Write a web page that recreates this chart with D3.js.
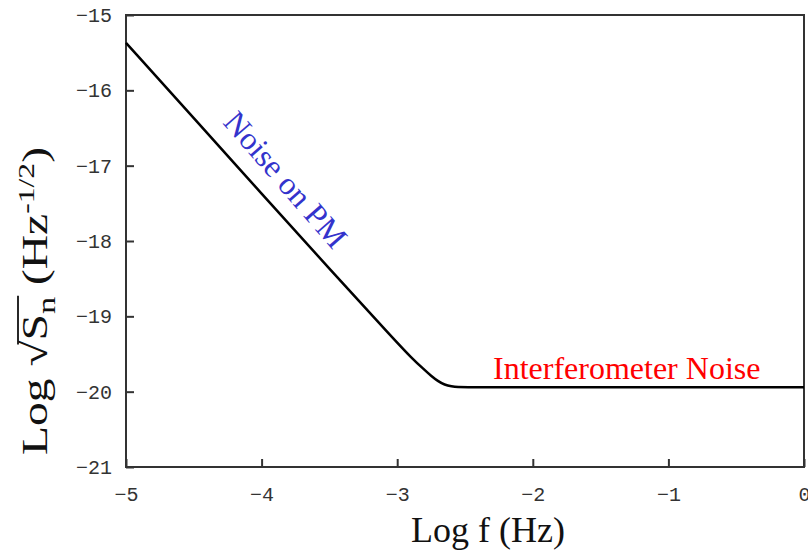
<!DOCTYPE html>
<html><head><meta charset="utf-8">
<script src="https://cdn.jsdelivr.net/npm/d3@7"></script>
<style>body{margin:0;background:#fff}svg{display:block}</style>
</head><body>
<svg id="c" width="808" height="554"></svg>
<script>
const logF = [-5, -4.5, -4, -3.5, -3, -2.9, -2.8, -2.75, -2.7, -2.65, -2.6, -2.55, -2.5, -2.3, -2, -1, 0];
const logS = [-15.37, -16.37, -17.37, -18.37, -19.35, -19.54, -19.71, -19.79, -19.86, -19.91, -19.93, -19.94, -19.94, -19.94, -19.94, -19.94, -19.94];
const xTicks = [-5, -4, -3, -2, -1, 0];
const yTicks = [-21, -20, -19, -18, -17, -16, -15];

const svg = d3.select("#c");
const L = 126, R = 804, T = 15, B = 467;
const x = d3.scaleLinear().domain([-5, 0]).range([L, R]);
const y = d3.scaleLinear().domain([-21, -15]).range([B, T]);
const fmt = d => d === 0 ? "0" : "\u2212" + Math.abs(d);

// frame
svg.append("rect").attr("x", L).attr("y", T).attr("width", R - L).attr("height", B - T)
  .attr("fill", "none").attr("stroke", "#333").attr("stroke-width", 2);

const tickFont = "'Liberation Mono', monospace";
const xa = svg.append("g").attr("transform", `translate(0,${B})`)
  .call(d3.axisBottom(x).tickValues(xTicks).tickSizeInner(-8).tickSizeOuter(0).tickPadding(20).tickFormat(fmt));
const ya = svg.append("g").attr("transform", `translate(${L},0)`)
  .call(d3.axisLeft(y).tickValues(yTicks).tickSizeInner(-8).tickSizeOuter(0).tickPadding(14).tickFormat(fmt));
[xa, ya].forEach(a => {
  a.select(".domain").remove();
  a.selectAll(".tick line").attr("stroke", "#333").attr("stroke-width", 2);
  a.selectAll(".tick text").attr("font-family", tickFont).attr("font-size", 20).attr("fill", "#333");
});

// curve
const pts = logF.map((f, i) => [f, logS[i]]);
svg.append("path").datum(pts)
  .attr("d", d3.line().x(d => x(d[0])).y(d => y(d[1])).curve(d3.curveBasis))
  .attr("fill", "none").attr("stroke", "#000").attr("stroke-width", 2.5);

// annotations
svg.append("text").attr("transform", "translate(222,123) rotate(49)")
  .attr("font-family", "'Liberation Serif', serif").attr("font-size", 32).attr("fill", "#3333cc")
  .text("Noise on PM");
svg.append("text").attr("x", 493).attr("y", 379)
  .attr("font-family", "'Liberation Serif', serif").attr("font-size", 32).attr("fill", "#ff0000")
  .text("Interferometer Noise");

// axis titles
svg.append("text").attr("x", 488).attr("y", 542).attr("text-anchor", "middle")
  .attr("font-family", "'Liberation Serif', serif").attr("font-size", 36).attr("fill", "#111")
  .text("Log f (Hz)");

const ylg = svg.append("g").attr("transform", "translate(47,301) rotate(-90) scale(1.32,1)");
const yl = ylg.append("text").attr("text-anchor", "middle")
  .attr("font-family", "'Liberation Serif', serif").attr("font-size", 36).attr("fill", "#111");
yl.append("tspan").text("Log \u221A");
yl.append("tspan").text("S");
yl.append("tspan").text("n").attr("font-size", 26).attr("dy", 8);
yl.append("tspan").text(" (Hz").attr("dy", -8);
yl.append("tspan").text("-1/2").attr("font-size", 24).attr("dy", -13);
yl.append("tspan").text(")").attr("dy", 13);
const tn = yl.node();
const e4 = tn.getExtentOfChar(4), e6 = tn.getExtentOfChar(6);
ylg.append("line").attr("x1", e4.x + e4.width * 0.85).attr("x2", e6.x + e6.width + 1)
  .attr("y1", -29).attr("y2", -29).attr("stroke", "#111").attr("stroke-width", 1.8);
</script>
</body></html>
